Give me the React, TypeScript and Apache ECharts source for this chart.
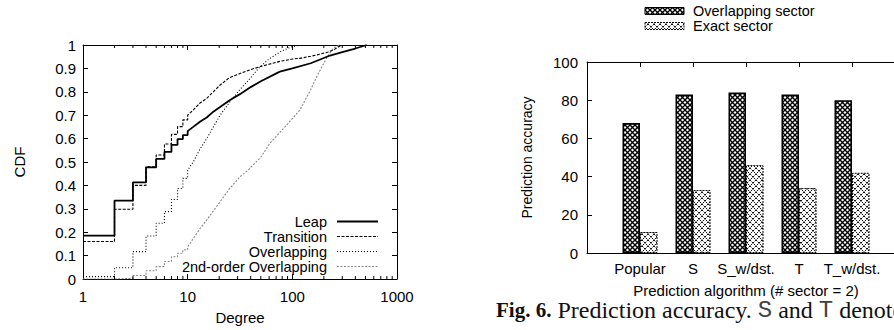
import React, { useEffect, useRef } from 'react';
import * as echarts from 'echarts';

// ---------- CDF chart data ----------
const stepDegrees = [1, 2, 3, 4, 5, 6, 7, 8, 9, 10];

const leapStepCdf = [0.185, 0.335, 0.413, 0.477, 0.513, 0.543, 0.573, 0.598, 0.615, 0.632];
const leapTailDeg = [11.3, 13.1, 15.2, 17.6, 20.4, 25.4, 31.6, 40, 50, 76, 100, 150, 229, 300, 400, 514];
const leapTailCdf = [0.65, 0.672, 0.69, 0.715, 0.735, 0.765, 0.79, 0.82, 0.845, 0.886, 0.9, 0.922, 0.955, 0.97, 0.985, 1.0];

const transitionStepCdf = [0.16, 0.298, 0.4, 0.48, 0.53, 0.577, 0.618, 0.651, 0.68, 0.7];
const transitionTailDeg = [11.3, 13.1, 15.2, 17.6, 20.4, 25, 31.6, 40, 49, 60, 76, 100, 118, 150, 180, 220, 250, 295];
const transitionTailCdf = [0.722, 0.752, 0.772, 0.8, 0.829, 0.86, 0.878, 0.895, 0.907, 0.918, 0.93, 0.94, 0.943, 0.952, 0.96, 0.97, 0.98, 1.0];

const overlappingStepCdf = [0.01, 0.048, 0.117, 0.184, 0.238, 0.288, 0.34, 0.387, 0.43, 0.465];
const overlappingTailDeg = [11.3, 13.1, 15.2, 17.6, 20.4, 25.4, 31.6, 40, 49, 60, 76, 95, 118];
const overlappingTailCdf = [0.5, 0.555, 0.6, 0.65, 0.7, 0.758, 0.81, 0.86, 0.907, 0.94, 0.97, 0.99, 1.0];

const secondOrderStepCdf = [0, 0.003, 0.015, 0.035, 0.053, 0.075, 0.095, 0.11, 0.125, 0.138];
const secondOrderTailDeg = [13.1, 15.2, 20.4, 25, 31.6, 37.9, 50, 61, 85, 118, 150, 171, 210, 246, 285];
const secondOrderTailCdf = [0.215, 0.252, 0.33, 0.385, 0.437, 0.466, 0.52, 0.58, 0.65, 0.722, 0.81, 0.865, 0.94, 0.986, 1.0];

const minorTickDegrees = [2, 3, 4, 5, 6, 7, 8, 9, 20, 30, 40, 50, 60, 70, 80, 90, 200, 300, 400, 500, 600, 700, 800, 900];

const cdfLegendNames = ['Leap', 'Transition', 'Overlapping', '2nd-order Overlapping'];

// ---------- Bar chart data ----------
const categories = ['Popular', 'S', 'S_w/dst.', 'T', 'T_w/dst.'];
const overlappingSector = [68, 83, 84, 83, 80];
const exactSector = [11, 33, 46, 34, 42];
const barLegendNames = ['Overlapping sector', 'Exact sector'];

const FONT = '"Liberation Sans", Arial, Helvetica, sans-serif';
const SERIF = '"Liberation Serif", "Times New Roman", serif';
const MONO = '"Liberation Mono", "Courier New", monospace';

function buildCurve(stepCdf: number[], tailDeg: number[], tailCdf: number[]) {
  const pts: number[][] = [];
  stepCdf.forEach((c, i) => {
    pts.push([stepDegrees[i], c]);
    if (i + 1 < stepCdf.length) pts.push([stepDegrees[i + 1], c]);
  });
  tailDeg.forEach((d, i) => pts.push([d, tailCdf[i]]));
  return pts;
}

function makeDensePattern() {
  const c = document.createElement('canvas');
  c.width = 5;
  c.height = 5;
  const ctx = c.getContext('2d')!;
  ctx.fillStyle = '#fff';
  ctx.fillRect(0, 0, 5, 5);
  ctx.strokeStyle = '#000';
  ctx.lineWidth = 1.4;
  ctx.beginPath();
  ctx.moveTo(-1, -1); ctx.lineTo(6, 6);
  ctx.moveTo(-1, 6); ctx.lineTo(6, -1);
  ctx.stroke();
  return c;
}

function makeLightPattern() {
  const n = 6;
  const c = document.createElement('canvas');
  c.width = n;
  c.height = n;
  const ctx = c.getContext('2d')!;
  ctx.fillStyle = '#fff';
  ctx.fillRect(0, 0, n, n);
  for (let k = 0; k < n; k++) {
    ctx.fillStyle = k % 2 === 0 ? '#111' : '#999';
    ctx.fillRect(k, k, 1, 1);
    ctx.fillRect(n - 1 - k, k, 1, 1);
  }
  return c;
}

export default function App() {
  const ref = useRef<HTMLDivElement>(null);

  useEffect(() => {
    if (!ref.current) return;
    const chart = echarts.init(ref.current, null, { renderer: 'svg' });
    const dense = { image: makeDensePattern(), repeat: 'repeat' };
    const light = { image: makeLightPattern(), repeat: 'repeat' };

    const axisLine = { onZero: false, lineStyle: { color: '#000', width: 1 } };
    const tick = { inside: true, length: 5, lineStyle: { color: '#000', width: 1 } };
    const label = { color: '#000', fontSize: 15, fontFamily: FONT };

    const lineStyles = [
      { color: '#000', width: 1.8, type: 'solid' },
      { color: '#000', width: 1.1, type: [3, 1.5] },
      { color: '#000', width: 1.1, type: [1, 2] },
      { color: '#888', width: 1.1, type: [2, 1.5] },
    ];
    const curves = [
      buildCurve(leapStepCdf, leapTailDeg, leapTailCdf),
      buildCurve(transitionStepCdf, transitionTailDeg, transitionTailCdf),
      buildCurve(overlappingStepCdf, overlappingTailDeg, overlappingTailCdf),
      buildCurve(secondOrderStepCdf, secondOrderTailDeg, secondOrderTailCdf),
    ];

    const legendRowsY = [221.5, 236.5, 251.5, 266.5];
    const cdfLegend: any[] = [];
    cdfLegendNames.forEach((n, i) => {
      cdfLegend.push({
        type: 'text',
        x: 327,
        y: legendRowsY[i],
        style: { text: n, fill: '#000', font: `14.5px ${FONT}`, textAlign: 'right', textVerticalAlign: 'middle' },
      });
      cdfLegend.push({
        type: 'line',
        shape: { x1: 337, y1: legendRowsY[i], x2: 378, y2: legendRowsY[i] },
        style: { stroke: lineStyles[i].color, lineWidth: lineStyles[i].width, lineDash: Array.isArray(lineStyles[i].type) ? lineStyles[i].type : null },
      });
    });

    const barLegendY = [11, 26];
    const barFills = [dense, light];
    const barLegend: any[] = [];
    barLegendNames.forEach((n, i) => {
      barLegend.push({
        type: 'rect',
        shape: { x: 645, y: barLegendY[i] - 3.5, width: 39, height: 7 },
        style: { fill: barFills[i], stroke: '#000', lineWidth: 1, lineDash: i === 1 ? [2, 1] : null },
      });
      barLegend.push({
        type: 'text',
        x: 693,
        y: barLegendY[i],
        style: { text: n, fill: '#000', font: `14.5px ${FONT}`, textVerticalAlign: 'middle' },
      });
    });

    const option: any = {
      animation: false,
      textStyle: { fontFamily: FONT, color: '#000' },
      grid: [
        { left: 83, top: 45, width: 314, height: 234, outerBoundsMode: 'none', containLabel: false },
        { left: 587, top: 62, width: 318, height: 191, outerBoundsMode: 'none', containLabel: false },
      ],
      xAxis: [
        {
          type: 'log', gridIndex: 0, logBase: 10, min: 1, max: 1000,
          axisLine, axisTick: tick, splitLine: { show: false },
          axisLabel: { ...label, margin: 10, formatter: (v: number) => String(Math.round(v)) },
          name: 'Degree', nameLocation: 'middle', nameGap: 31,
          nameTextStyle: { fontSize: 15, color: '#000', fontFamily: FONT },
        },
        {
          type: 'log', gridIndex: 0, logBase: 10, min: 1, max: 1000, position: 'top',
          axisLine, axisTick: tick, axisLabel: { show: false }, splitLine: { show: false },
        },
        {
          type: 'value', gridIndex: 1, min: -1, max: 5, interval: 1,
          axisLine, axisTick: tick, splitLine: { show: false },
          axisLabel: {
            ...label, margin: 8,
            formatter: (v: number) => (v >= 0 && v < categories.length ? categories[v] : ''),
          },
          name: 'Prediction algorithm (# sector = 2)', nameLocation: 'middle', nameGap: 30,
          nameTextStyle: { fontSize: 15, color: '#000', fontFamily: FONT },
        },
        {
          type: 'value', gridIndex: 1, min: -1, max: 5, interval: 1, position: 'top',
          axisLine, axisTick: tick, axisLabel: { show: false }, splitLine: { show: false },
        },
      ],
      yAxis: [
        {
          type: 'value', gridIndex: 0, min: 0, max: 1, interval: 0.1,
          axisLine, axisTick: tick, axisLabel: { ...label, margin: 7 }, splitLine: { show: false },
          name: 'CDF', nameLocation: 'middle', nameGap: 56,
          nameTextStyle: { fontSize: 15, color: '#000', fontFamily: FONT },
        },
        {
          type: 'value', gridIndex: 0, min: 0, max: 1, interval: 0.1, position: 'right',
          axisLine, axisTick: tick, axisLabel: { show: false }, splitLine: { show: false },
        },
        {
          type: 'value', gridIndex: 1, min: 0, max: 100, interval: 20,
          axisLine, axisTick: tick, axisLabel: { ...label, margin: 9 }, splitLine: { show: false },
          name: 'Prediction accuracy', nameLocation: 'middle', nameGap: 53,
          nameTextStyle: { fontSize: 14, color: '#000', fontFamily: FONT },
        },
        {
          type: 'value', gridIndex: 1, min: 0, max: 100, interval: 20, position: 'right',
          axisLine, axisTick: tick, axisLabel: { show: false }, splitLine: { show: false },
        },
      ],
      series: [
        ...curves.map((data, i) => ({
          name: cdfLegendNames[i],
          type: 'line',
          xAxisIndex: 0,
          yAxisIndex: 0,
          data,
          symbol: 'none',
          showSymbol: false,
          lineStyle: lineStyles[i],
          silent: true,
          z: 4 - i,
        })),
        {
          type: 'custom',
          xAxisIndex: 0,
          yAxisIndex: 0,
          data: minorTickDegrees.map((d) => [d, 0]),
          encode: { x: 0, y: 1 },
          silent: true,
          clip: false,
          renderItem: (params: any, api: any) => {
            const v = api.value(0);
            const b = api.coord([v, 0]);
            const t = api.coord([v, 1]);
            return {
              type: 'group',
              children: [
                { type: 'line', shape: { x1: b[0], y1: b[1], x2: b[0], y2: b[1] - 3 }, style: { stroke: '#000', lineWidth: 1 } },
                { type: 'line', shape: { x1: t[0], y1: t[1], x2: t[0], y2: t[1] + 3 }, style: { stroke: '#000', lineWidth: 1 } },
              ],
            };
          },
        },
        {
          name: barLegendNames[0],
          type: 'bar',
          xAxisIndex: 2,
          yAxisIndex: 2,
          barWidth: 17.5,
          barGap: '0%',
          data: overlappingSector.map((v, i) => [i, v]),
          itemStyle: { color: dense, borderColor: '#000', borderWidth: 1.6 },
          silent: true,
        },
        {
          name: barLegendNames[1],
          type: 'bar',
          xAxisIndex: 2,
          yAxisIndex: 2,
          barWidth: 17.5,
          barGap: '0%',
          data: exactSector.map((v, i) => [i, v]),
          itemStyle: { color: light, borderColor: '#000', borderWidth: 1, borderType: [2, 1] },
          silent: true,
        },
      ],
      graphic: [
        ...cdfLegend,
        ...barLegend,
        {
          type: 'text',
          x: 496,
          y: 310,
          style: {
            text: '{b|Fig. 6.} {r|Prediction accuracy.} {m|S} {r|and} {m|T} {r|denote}',
            textVerticalAlign: 'middle',
            fill: '#111',
            rich: {
              b: { fontFamily: SERIF, fontSize: 21, fontWeight: 'bold', fill: '#111', lineHeight: 18 },
              r: { fontFamily: SERIF, fontSize: 24, fill: '#111', lineHeight: 18 },
              m: { fontFamily: MONO, fontSize: 24, fill: '#444', lineHeight: 18 },
            },
            font: `24px ${SERIF}`,
          },
        },
      ],
    };

    chart.setOption(option);
    return () => chart.dispose();
  }, []);

  return (
    <div
      ref={ref}
      style={{ position: 'fixed', left: 0, top: 0, width: 894, height: 330, background: '#fff' }}
    />
  );
}
